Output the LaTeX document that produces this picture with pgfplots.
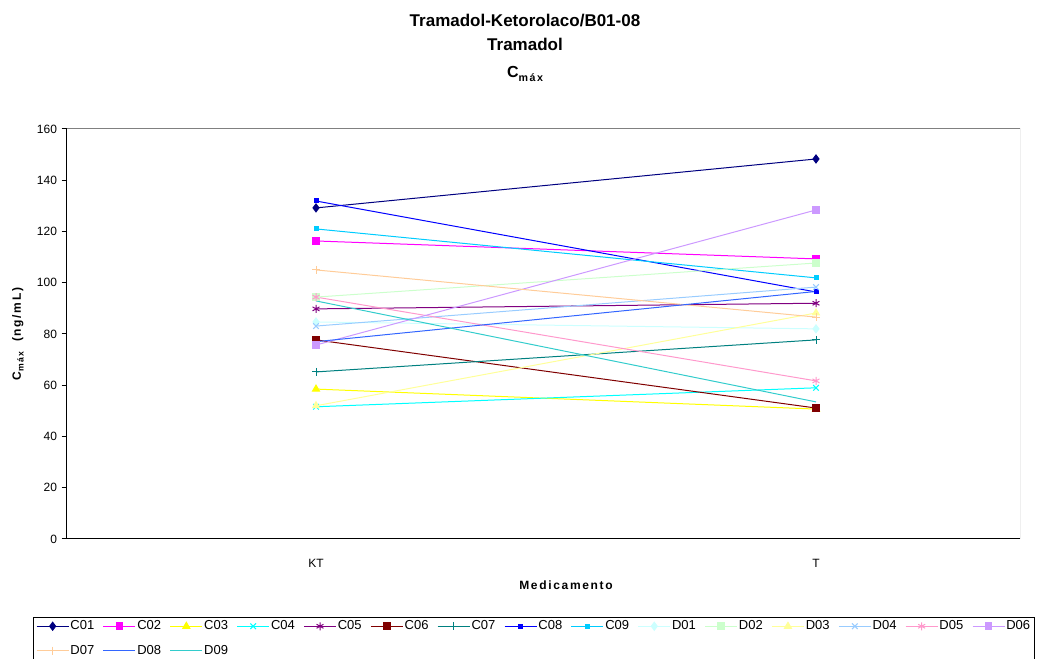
\documentclass[border=0pt]{standalone}
\usepackage{fontspec}
\setmainfont{Liberation Sans}
\usepackage{pgfplots}
\pgfplotsset{compat=1.18}

\definecolor{s01}{HTML}{000080}
\definecolor{s02}{HTML}{FF00FF}
\definecolor{s03}{HTML}{FFFF00}
\definecolor{s04}{HTML}{00FFFF}
\definecolor{s05}{HTML}{800080}
\definecolor{s06}{HTML}{800000}
\definecolor{s07}{HTML}{008080}
\definecolor{s08}{HTML}{0000FF}
\definecolor{s09}{HTML}{00CCFF}
\definecolor{s10}{HTML}{CCFFFF}
\definecolor{s11}{HTML}{CCFFCC}
\definecolor{s12}{HTML}{FFFF99}
\definecolor{s13}{HTML}{99CCFF}
\definecolor{s14}{HTML}{FF99CC}
\definecolor{s15}{HTML}{CC99FF}
\definecolor{s16}{HTML}{FFCC99}
\definecolor{s17}{HTML}{3366FF}
\definecolor{s18}{HTML}{33CCCC}
\definecolor{frame}{HTML}{808080}

\newcommand{\spaced}{\addfontfeatures{LetterSpace=14}}

\begin{document}
\begin{tikzpicture}
\path[use as bounding box] (0,0) rectangle (788.25pt,494.25pt);

\node[font=\bfseries\fontsize{12.75}{14}\selectfont] at (393.75pt,479pt) {Tramadol-Ketorolaco/B01-08};
\node[font=\bfseries\fontsize{12.75}{14}\selectfont] at (393.75pt,461.25pt) {Tramadol};
\node[font=\bfseries\fontsize{12}{14}\selectfont] at (393.75pt,438.5pt) {C\raisebox{-0.45ex}{\fontsize{8}{9}\selectfont\spaced máx}};

\begin{axis}[
  at={(50.25pt,90pt)}, anchor=south west,
  scale only axis, width=714.75pt, height=307.5pt,
  xmin=-0.498, xmax=1.408, ymin=0, ymax=160,
  axis x line*=bottom, axis y line*=left,
  axis line style={black, line width=0.75pt, -},
  ytick={0,20,...,160},
  xtick={0,1}, xticklabels={KT,T},
  x tick style={draw=none},
  extra x ticks={0.5}, extra x tick labels={},
  extra x tick style={tick align=outside, major tick length=4pt, tick style={black, line width=0.75pt, draw=black}},
  y tick style={black, line width=0.75pt},
  tick align=outside, major tick length=4pt,
  tick label style={font=\fontsize{9}{10}\selectfont},
  x tick label style={yshift=-8pt},
  /pgf/number format/assume math mode=true,
  xlabel={Medicamento},
  ylabel={C\raisebox{-0.45ex}{\fontsize{6.5}{7}\selectfont máx}\ \ (ng/mL)},
  label style={font=\bfseries\fontsize{9}{10}\selectfont\spaced},
  xlabel style={at={(axis description cs:0.5236,-0.112)}, anchor=center},
  ylabel style={at={(axis description cs:-0.0514,0.5)}, anchor=center},
  every axis plot/.append style={line width=0.75pt},
  mark size=2.5pt,
  legend columns=15,
  legend style={at={(axis description cs:-0.0357,-0.190)}, anchor=north west,
    draw=black, line width=0.75pt, font=\fontsize{9.75}{11}\selectfont,
    inner xsep=2pt, inner ysep=1pt, row sep=7pt,
    nodes={inner xsep=1pt, inner ysep=1.5pt},
    /tikz/every even column/.append style={column sep=5.5pt}},
  legend cell align=left,
  legend image code/.code={\draw[mark repeat=2,mark phase=2] plot coordinates {(0pt,0pt) (12pt,0pt) (24pt,0pt)};},
]
\addplot[s01, mark=diamond*, mark size=3pt, mark options={solid, fill=s01}] coordinates {(0,129.2) (1,148.3)};
\addlegendentry{C01}
\addplot[s02, mark=square*, mark options={solid, fill=s02}] coordinates {(0,116.3) (1,109.3)};
\addlegendentry{C02}
\addplot[s03, mark=triangle*, mark size=3pt, mark options={solid, fill=s03}] coordinates {(0,58.5) (1,50.7)};
\addlegendentry{C03}
\addplot[s04, mark=x, mark size=3pt] coordinates {(0,51.6) (1,59.0)};
\addlegendentry{C04}
\addplot[s05, mark=asterisk, mark size=3pt] coordinates {(0,89.8) (1,92.0)};
\addlegendentry{C05}
\addplot[s06, mark=square*, mark options={solid, fill=s06}] coordinates {(0,77.7) (1,51.1)};
\addlegendentry{C06}
\addplot[s07, mark=+, mark size=3pt] coordinates {(0,65.2) (1,77.7)};
\addlegendentry{C07}
\addplot[s08, mark=square*, mark size=1.5pt, mark options={solid, fill=s08}] coordinates {(0,131.9) (1,96.4)};
\addlegendentry{C08}
\addplot[s09, mark=square*, mark size=1.5pt, mark options={solid, fill=s09}] coordinates {(0,121.0) (1,101.9)};
\addlegendentry{C09}
\addplot[s10, mark=diamond*, mark size=3pt, mark options={solid, fill=s10}] coordinates {(0,84.7) (1,82.0)};
\addlegendentry{D01}
\addplot[s11, mark=square*, mark options={solid, fill=s11}] coordinates {(0,94.4) (1,107.7)};
\addlegendentry{D02}
\addplot[s12, mark=triangle*, mark size=3pt, mark options={solid, fill=s12}] coordinates {(0,52.0) (1,88.2)};
\addlegendentry{D03}
\addplot[s13, mark=x, mark size=3pt] coordinates {(0,83.1) (1,98.3)};
\addlegendentry{D04}
\addplot[s14, mark=asterisk, mark size=3pt] coordinates {(0,94.4) (1,61.7)};
\addlegendentry{D05}
\addplot[s15, mark=square*, mark options={solid, fill=s15}] coordinates {(0,75.7) (1,128.4)};
\addlegendentry{D06}
\addplot[s16, mark=+, mark size=3pt] coordinates {(0,105.0) (1,86.6)};
\addlegendentry{D07}
\addplot[s17, no marks] coordinates {(0,77.0) (1,96.6)};
\addlegendentry{D08}
\addplot[s18, no marks] coordinates {(0,92.9) (1,53.5)};
\addlegendentry{D09}
\draw[frame, line width=0.75pt] (rel axis cs:0,1) -- (rel axis cs:1,1) -- (rel axis cs:1,0);
\end{axis}
\end{tikzpicture}
\end{document}
